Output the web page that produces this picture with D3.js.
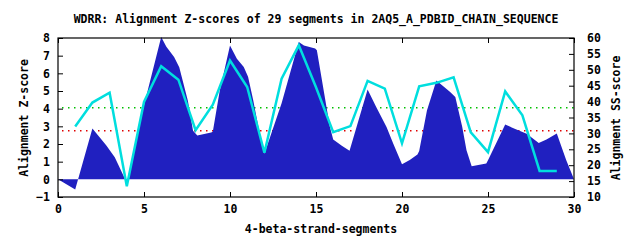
<!DOCTYPE html>
<html lang="en">
<head>
<meta charset="UTF-8">
<title>WDRR Alignment Z-scores</title>
<script src="https://d3js.org/d3.v7.min.js"></script>
<style>
    body { margin: 0; background: #fff; }
    svg { display: block; }
    text {
        font-family: "DejaVu Sans Mono", "Liberation Mono", monospace;
        font-weight: bold;
        font-size: 11.5px;
        fill: #000;
    }
</style>
</head>
<body>
<svg id="chart" width="640" height="240"></svg>
<script>
    // Z-score profile (filled)
    const zX = [0, 1, 2, 2.8, 3.3, 4, 5, 6, 6.3, 6.75, 7.05, 7.55, 7.85, 8.1, 8.9, 9.0, 9.4, 10, 10.4, 10.8,
        11.05, 11.35, 11.65, 12, 13, 14, 14.3, 14.95, 15.05, 15.8, 16.0, 16.5, 16.95, 18, 18.5, 19.1, 19.5,
        20, 20.45, 20.9, 21.0, 21.45, 22, 22.8, 23.1, 23.5, 23.75, 24.05, 24.9, 25.0, 26.0, 26.55, 27.25,
        27.95, 28.4, 29.0, 29.55, 30];
    const zY = [0, -0.58, 2.88, 1.93, 1.25, -0.2, 4.2, 8.05, 7.5, 6.92, 6.35, 4.45, 2.75, 2.48, 2.65, 2.7, 5.0, 7.58, 6.83, 6.36,
        5.8, 4.48, 2.97, 1.45, 4.3, 7.77, 7.58, 7.4, 7.3, 3.0, 2.25, 1.9, 1.62, 5.08, 4.1, 2.96, 2.0,
        0.85, 1.1, 1.4, 1.6, 3.9, 5.6, 4.95, 4.66, 2.97, 1.64, 0.74, 0.9, 1.08, 3.1, 2.86, 2.58,
        2.06, 2.26, 2.6, 1.08, 0];

    // SS-score per segment (right axis)
    const segments = d3.range(1, 30);
    const ssScores = [32.2, 39.7, 42.8, 13.4, 39.9, 51.1, 46.9, 31.0, 39.0, 52.9, 44.6, 23.9, 47.2, 57.7, 44.5,
        30.4, 32.3, 46.5, 44.1, 26.9, 44.8, 45.9, 47.6, 30.3, 24.1, 43.2, 35.7, 18.2, 18.2];

    const xTicks = [0, 5, 10, 15, 20, 25, 30];
    const zTicks = [-1, 0, 1, 2, 3, 4, 5, 6, 7, 8];
    const ssTicks = [10, 15, 20, 25, 30, 35, 40, 45, 50, 55, 60];
    const thresholds = [{ z: 4.05, color: "#00c000" }, { z: 2.75, color: "#e00000" }];

    const plotL = 58, plotR = 574, plotT = 38, plotB = 197;
    const svg = d3.select("#chart");

    const x = d3.scaleLinear().domain([0, 30]).range([plotL, plotR]);
    const y = d3.scaleLinear().domain([-1, 8]).range([plotB, plotT]);
    const y2 = d3.scaleLinear().domain([10, 60]).range([plotB, plotT]);

    // threshold lines sit under the fill
    svg.selectAll(".thr")
        .data(thresholds)
        .enter().append("line")
        .attr("x1", plotL + 4).attr("x2", plotR)
        .attr("y1", d => y(d.z)).attr("y2", d => y(d.z))
        .attr("stroke", d => d.color)
        .attr("stroke-width", 1.5)
        .attr("stroke-dasharray", "1.5,4.5");

    const zData = zX.map((v, i) => [v, zY[i]]);
    const area = d3.area()
        .x(d => x(d[0]))
        .y0(y(0))
        .y1(d => y(d[1]));

    svg.append("path")
        .datum(zData)
        .attr("d", area)
        .attr("fill", "#2020c0");

    const line = d3.line()
        .x((d, i) => x(segments[i]))
        .y(d => y2(d));

    svg.append("path")
        .datum(ssScores)
        .attr("d", line)
        .attr("fill", "none")
        .attr("stroke", "#00dede")
        .attr("stroke-width", 2.5);

    // frame
    svg.append("rect")
        .attr("x", plotL).attr("y", plotT)
        .attr("width", plotR - plotL).attr("height", plotB - plotT)
        .attr("fill", "none")
        .attr("stroke", "#000")
        .attr("stroke-width", 1.2);

    const tidy = g => {
        g.select(".domain").remove();
        g.selectAll("line").attr("stroke", "#000");
        g.selectAll("text").attr("font-family", null).attr("font-size", null);
    };

    svg.append("g")
        .attr("transform", `translate(${plotL},0)`)
        .call(d3.axisLeft(y).tickValues(zTicks).tickSize(-5).tickPadding(8))
        .call(tidy);

    svg.append("g")
        .attr("transform", `translate(${plotR},0)`)
        .call(d3.axisRight(y2).tickValues(ssTicks).tickSize(-5).tickPadding(13))
        .call(tidy);

    svg.append("g")
        .attr("transform", `translate(0,${plotB})`)
        .call(d3.axisBottom(x).tickValues(xTicks).tickSize(-5).tickPadding(8))
        .call(tidy);

    // mirrored ticks on top
    svg.append("g")
        .attr("transform", `translate(0,${plotT})`)
        .call(d3.axisTop(x).tickValues(xTicks).tickSize(-5).tickFormat(""))
        .call(tidy);

    svg.append("text")
        .attr("x", 316).attr("y", 23)
        .attr("text-anchor", "middle")
        .text("WDRR: Alignment Z-scores of 29 segments in 2AQ5_A_PDBID_CHAIN_SEQUENCE");

    svg.append("text")
        .attr("x", 321).attr("y", 233)
        .attr("text-anchor", "middle")
        .text("4-beta-strand-segments");

    svg.append("text")
        .attr("transform", "translate(28,118) rotate(-90)")
        .attr("text-anchor", "middle")
        .text("Alignment Z-score");

    svg.append("text")
        .attr("transform", "translate(620,118) rotate(-90)")
        .attr("text-anchor", "middle")
        .text("Alignment SS-score");
</script>
</body>
</html>
